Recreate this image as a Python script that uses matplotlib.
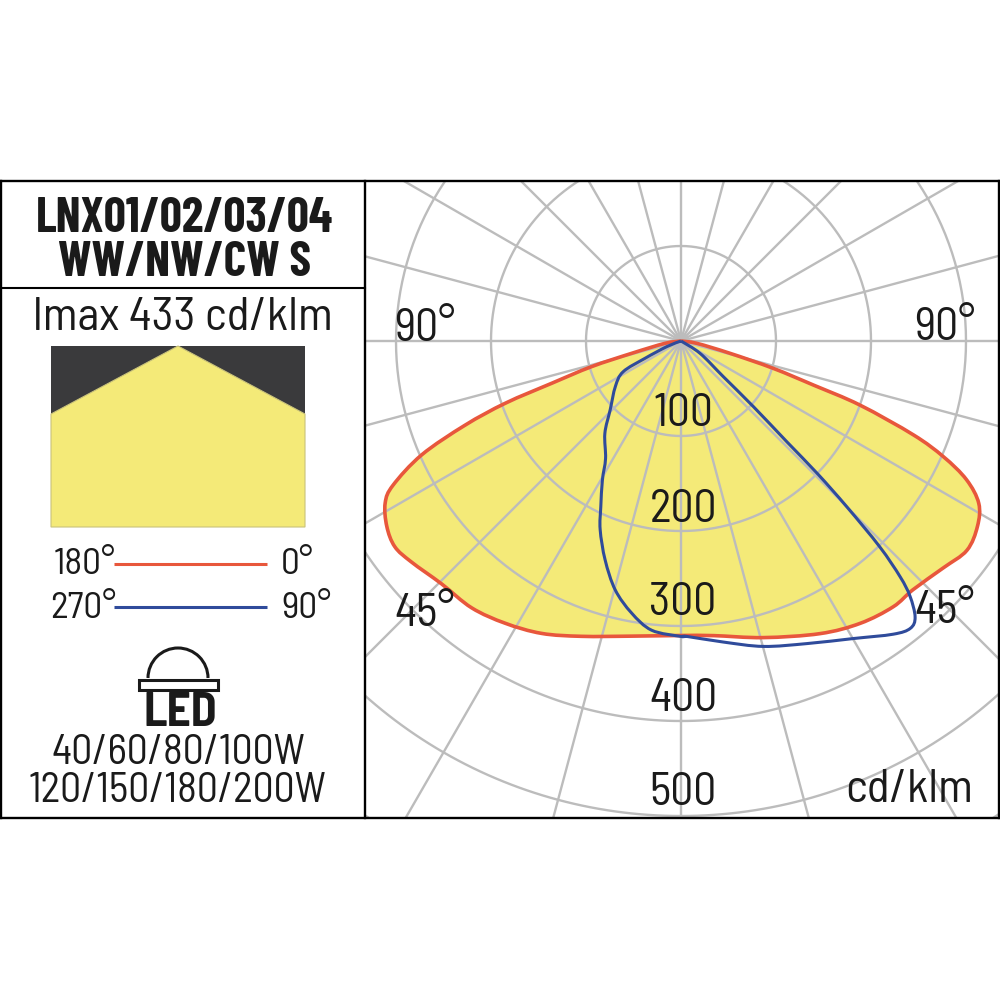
import numpy as np
import matplotlib
matplotlib.use("Agg")
import matplotlib.pyplot as plt
from matplotlib.patches import Rectangle, Polygon, Arc, PathPatch
from matplotlib.path import Path

plt.rcParams['font.family'] = ['Barlow Semi Condensed', 'Roboto Condensed', 'Roboto', 'DejaVu Sans']
BOLD_FAMILY = ['Barlow Condensed', 'Roboto Condensed', 'Roboto', 'DejaVu Sans']

# angle from nadir in degrees (+ = right side), intensity in cd/klm
red_angle = [81.5, 75.9, 73.5, 71.6, 70.3, 68.0, 66.2, 64.1, 61.4, 58.0, 53.8, 49.1, 43.0, 38.6, 32.4, 25.4, 15.5, 6.3,
             0.0, -9.5, -18.6, -25.5, -31.9, -38.1, -44.6, -50.7, -54.3, -57.8, -61.3, -63.4, -66.3, -68.7, -70.5,
             -71.9, -74.0, -76.0, -81.7]
red_cd = [17, 53, 101, 147, 200, 264, 302, 334, 357, 368, 373, 365, 358, 358, 352, 341, 324, 312,
          310, 315, 328, 341, 350, 357, 359, 367, 371, 366, 355, 339, 298, 244, 196,
          143, 98, 53, 17]

blue_angle = [57.0, 49.9, 47.8, 46.4, 45.8, 45.0, 44.0, 42.9, 41.9, 40.3, 38.6, 35.9, 30.1, 22.6, 15.1, 8.0, 1.1,
              0.0, -5.8, -10.3, -14.8, -19.1, -23.2, -25.8, -29.5, -32.7, -39.5, -45.8, -55.3, -62.0, -64.3, -68.4]
blue_cd = [24, 58, 103, 154, 201, 247, 301, 339, 361, 381, 387, 381, 362, 345, 333, 320, 311,
           311, 306, 291, 271, 244, 216, 194, 168, 147, 126, 104, 84, 69, 42, 16]

rings = [100, 200, 300, 400, 500, 600, 700]
spokes = np.arange(0, 360, 15)
ring_labels = ["100", "200", "300", "400", "500"]
ring_label_y = [414, 510, 603, 699, 793]
title_lines = ["LNX01/02/03/04", "WW/NW/CW S"]
power_lines = ["40/60/80/100W", "120/150/180/200W"]

RED = "#e8573c"
BLUE = "#2f4b9b"
YELLOW = "#f4ea78"
GRID = "#bcbcbc"
DARK = "#3a3a3c"
INK = "#1a1a1a"
CX, CY, PX = 681, 341, 0.95  # centre of the diagram in pixels, pixels per cd


def to_xy(angle, cd):
    a = np.radians(np.asarray(angle, dtype=float))
    r = np.asarray(cd, dtype=float)
    return r * np.sin(a), -r * np.cos(a)


def smooth_path(x, y):
    # bezier segments through the read points, closed at the centre of the diagram
    pts = np.column_stack([np.r_[0, x, 0], np.r_[0, y, 0]])
    verts = [pts[0]]
    codes = [Path.MOVETO]
    for i in range(len(pts) - 1):
        p0 = pts[max(i - 1, 0)]
        p1 = pts[i]
        p2 = pts[i + 1]
        p3 = pts[min(i + 2, len(pts) - 1)]
        verts += [p1 + (p2 - p0) / 6, p2 - (p3 - p1) / 6, p2]
        codes += [Path.CURVE4] * 3
    return Path(verts, codes)


fig = plt.figure(figsize=(10, 10), dpi=100)

# the diagram, clipped by its own axes
ax = fig.add_axes([365 / 1000, 1 - 818 / 1000, 635 / 1000, 637 / 1000])
ax.set_xlim((365 - CX) / PX, (1000 - CX) / PX)
ax.set_ylim(-(818 - CY) / PX, (CY - 181) / PX)
ax.axis("off")

red_path = smooth_path(*to_xy(red_angle, red_cd))
blue_path = smooth_path(*to_xy(blue_angle, blue_cd))
ax.add_patch(PathPatch(red_path, fc=YELLOW, ec="none", zorder=1))

t = np.linspace(0, 360, 361)
for r in rings:
    x, y = to_xy(t, np.full_like(t, r))
    ax.plot(x, y, color=GRID, lw=1.7, zorder=2)
for s in spokes:
    x, y = to_xy([s, s], [0, 900])
    ax.plot(x, y, color=GRID, lw=1.7, zorder=2)

ax.add_patch(PathPatch(red_path, fc="none", ec=RED, lw=2.6, zorder=3))
ax.add_patch(PathPatch(blue_path, fc="none", ec=BLUE, lw=2.2, zorder=4))

# everything else sits on a full figure overlay in pixel coordinates
ov = fig.add_axes([0, 0, 1, 1], facecolor="none")
ov.set_xlim(0, 1000)
ov.set_ylim(1000, 0)
ov.axis("off")

for y in [181, 818]:
    ov.plot([0, 1000], [y, y], color="black", lw=1.7)
for x in [1, 365, 999]:
    ov.plot([x, x], [181, 818], color="black", lw=1.7)
ov.plot([0, 365], [288, 288], color="black", lw=1.5)

for line, y in zip(title_lines, [219, 263]):
    ov.text(184, y, line, ha="center", va="center", fontsize=35, fontweight="bold",
            family=BOLD_FAMILY, color=INK)
ov.text(183, 318, "lmax 433 cd/klm", ha="center", va="center", fontsize=34, color=INK)

# beam pictogram
ov.add_patch(Rectangle((51, 346), 254, 181, fc=DARK, ec="none"))
ov.add_patch(Polygon([(51, 414), (178, 346), (305, 414), (305, 527), (51, 527)],
                     closed=True, fc=YELLOW, ec="#c9c27a", lw=0.8))

# legend
ov.plot([114, 267], [564, 564], color=RED, lw=2.2, solid_capstyle="butt")
ov.plot([114, 267], [607, 607], color=BLUE, lw=2.2, solid_capstyle="butt")
ov.text(116, 564, "180°", ha="right", va="center", fontsize=27, color=INK)
ov.text(116, 608, "270°", ha="right", va="center", fontsize=27, color=INK)
ov.text(281, 564, "0°", ha="left", va="center", fontsize=27, color=INK)
ov.text(281, 608, "90°", ha="left", va="center", fontsize=27, color=INK)

# LED icon
ov.add_patch(Arc((178, 678), 60, 60, theta1=180, theta2=360, ec=INK, lw=2.2))
ov.add_patch(Rectangle((139, 680), 79, 10, fc="white", ec=INK, lw=2.2))
ov.text(180, 714, "LED", ha="center", va="center", fontsize=34, fontweight="bold", color=INK)
for line, y in zip(power_lines, [754, 792]):
    ov.text(178, y, line, ha="center", va="center", fontsize=30, color=INK)

# diagram labels
for x, y, label in [(425, 329, "90°"), (945, 328, "90°"), (425, 614, "45°"), (945, 611, "45°")]:
    ov.text(x, y, label, ha="center", va="center", fontsize=33, color=INK)
for label, y in zip(ring_labels, ring_label_y):
    ov.text(683, y, label, ha="center", va="center", fontsize=33, color=INK)
ov.text(909, 790, "cd/klm", ha="center", va="center", fontsize=34, color=INK)

fig.savefig("out.png", dpi=100, facecolor="white")
